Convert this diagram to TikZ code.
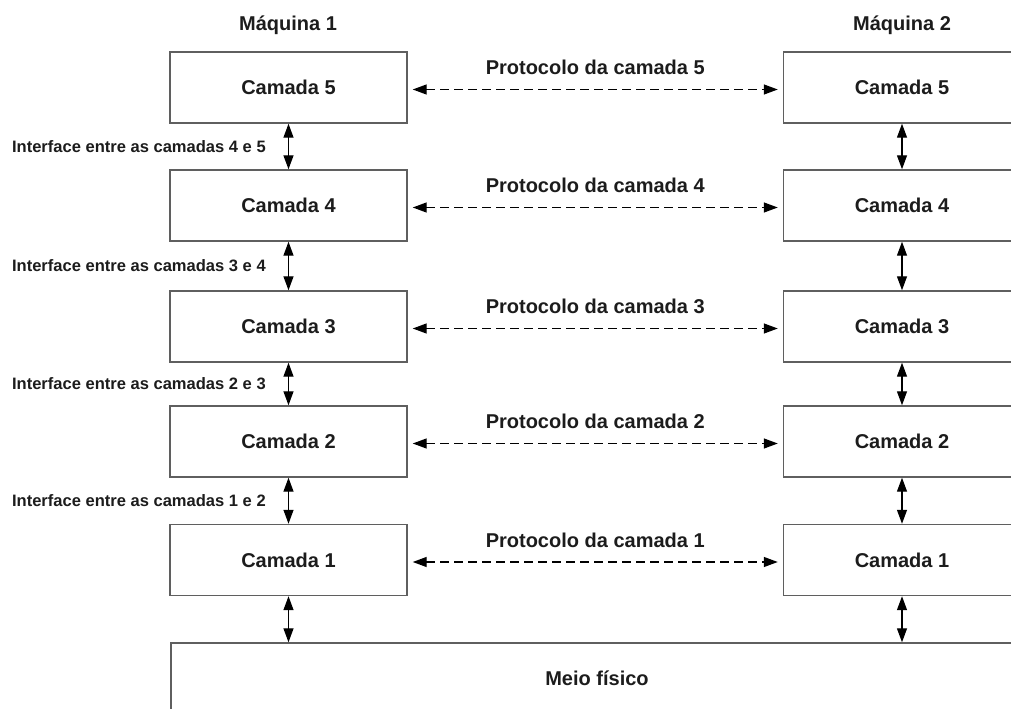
\documentclass[tikz,border=0pt]{standalone}
\usepackage{fontspec}
\setmainfont{Liberation Sans}
\usetikzlibrary{arrows.meta}
\definecolor{borda}{HTML}{5F5F5F}
\definecolor{texto}{HTML}{1C1C1C}

\begin{document}
\begin{tikzpicture}[x=0.75pt,y=-0.75pt,
  camada/.style={draw=borda, line width=1.1pt, minimum width=177.75pt, minimum height=53.25pt, inner sep=0pt, font=\bfseries\fontsize{15}{18}\selectfont, text=texto},
  titulo/.style={font=\bfseries\fontsize{15}{18}\selectfont, text=texto},
  interface/.style={anchor=east, inner sep=0pt, font=\bfseries\fontsize{12.4}{15}\selectfont, text=texto},
  seta/.style={{Triangle[length=10.5pt,width=7.5pt]}-{Triangle[length=10.5pt,width=7.5pt]}, line width=1pt},
  protocolo/.style={seta, dash pattern=on 6.5pt off 4pt, shorten <=3.75pt, shorten >=3.75pt}]
\useasboundingbox (0,0) rectangle (1011,709);

\node[titulo] (maq1) at (288,25) {Máquina 1};
\node[titulo] (maq2) at (902,25) {Máquina 2};

\node[camada] (l5) at (288.5,87.5) {Camada 5};
\node[camada] (l4) at (288.5,205.5) {Camada 4};
\node[camada] (l3) at (288.5,326.5) {Camada 3};
\node[camada] (l2) at (288.5,441.5) {Camada 2};
\node[camada] (l1) at (288.5,560) {Camada 1};

\node[camada] (r5) at (902,87.5) {Camada 5};
\node[camada] (r4) at (902,205.5) {Camada 4};
\node[camada] (r3) at (902,326.5) {Camada 3};
\node[camada] (r2) at (902,441.5) {Camada 2};
\node[camada] (r1) at (902,560) {Camada 1};

\node[camada, minimum width=639pt] (meio) at (597,678.5) {Meio físico};

% interfaces
\node[interface] (i45) at (266,146.5) {Interface entre as camadas 4 e 5};
\node[interface] (i34) at (266,266) {Interface entre as camadas 3 e 4};
\node[interface] (i23) at (266,384) {Interface entre as camadas 2 e 3};
\node[interface] (i12) at (266,500.5) {Interface entre as camadas 1 e 2};

\draw[seta] (l5) -- (l4);
\draw[seta] (l4) -- (l3);
\draw[seta] (l3) -- (l2);
\draw[seta] (l2) -- (l1);
\draw[seta] (l1.south) -- (l1.south |- meio.north);

\draw[seta] (r5) -- (r4);
\draw[seta] (r4) -- (r3);
\draw[seta] (r3) -- (r2);
\draw[seta] (r2) -- (r1);
\draw[seta] (r1.south) -- (r1.south |- meio.north);

% protocolos
\draw[protocolo] ([yshift=-1.5pt]l5.east) -- ([yshift=-1.5pt]r5.west) node[titulo, midway, yshift=16.5pt] {Protocolo da camada 5};
\draw[protocolo] ([yshift=-1.5pt]l4.east) -- ([yshift=-1.5pt]r4.west) node[titulo, midway, yshift=16.5pt] {Protocolo da camada 4};
\draw[protocolo] ([yshift=-1.5pt]l3.east) -- ([yshift=-1.5pt]r3.west) node[titulo, midway, yshift=16.5pt] {Protocolo da camada 3};
\draw[protocolo] ([yshift=-1.5pt]l2.east) -- ([yshift=-1.5pt]r2.west) node[titulo, midway, yshift=16.5pt] {Protocolo da camada 2};
\draw[protocolo] ([yshift=-1.5pt]l1.east) -- ([yshift=-1.5pt]r1.west) node[titulo, midway, yshift=16.5pt] {Protocolo da camada 1};
\end{tikzpicture}
\end{document}
